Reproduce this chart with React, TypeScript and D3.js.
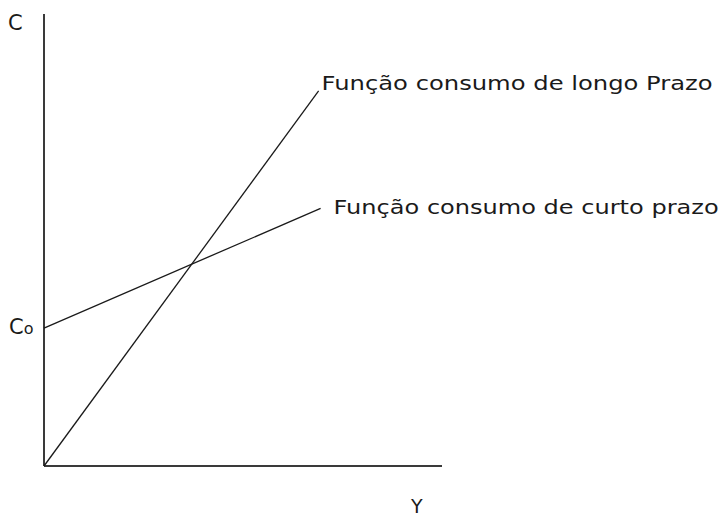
import React from "react";
import * as d3 from "d3";

// Consumption functions in abstract units (income Y, consumption C)
const longRunY = [0, 69];
const longRunC = [0, 83];
const shortRunY = [0, 69.5];
const shortRunC = [30.5, 57];

const longRunLabel = "Função consumo de longo Prazo";
const shortRunLabel = "Função consumo de curto prazo";
const axisLabelC = "C";
const axisLabelY = "Y";
const interceptLabel = "C";
const interceptSub = "o";

const W = 720;
const H = 516;

export default function App() {
  const x = d3.scaleLinear().domain([0, 100]).range([44, 442]);
  const y = d3.scaleLinear().domain([0, 100]).range([466, 14]);

  const line = d3
    .line<[number, number]>()
    .x((d) => x(d[0]))
    .y((d) => y(d[1]));

  const longPts = longRunY.map((v, i) => [v, longRunC[i]] as [number, number]);
  const shortPts = shortRunY.map((v, i) => [v, shortRunC[i]] as [number, number]);

  const font = "DejaVu Sans, Verdana, sans-serif";
  const ink = "#1a1a1a";

  return (
    <svg
      width={W}
      height={H}
      style={{ position: "absolute", left: 0, top: 0, background: "#fff" }}
      fontFamily={font}
    >
      {/* axes */}
      <line x1={x(0)} y1={y(100)} x2={x(0)} y2={y(0)} stroke="#3a3a3a" strokeWidth={2} />
      <line x1={x(0)} y1={y(0)} x2={x(100)} y2={y(0)} stroke="#3a3a3a" strokeWidth={2} />

      {/* consumption functions */}
      <path d={line(longPts) ?? ""} fill="none" stroke={ink} strokeWidth={1.3} />
      <path d={line(shortPts) ?? ""} fill="none" stroke={ink} strokeWidth={1.3} />

      {/* labels */}
      <text
        x={x(longRunY[1]) + 3}
        y={90}
        fontSize={20}
        fill={ink}
        textLength={391}
        lengthAdjust="spacingAndGlyphs"
      >
        {longRunLabel}
      </text>
      <text
        x={x(shortRunY[1]) + 13}
        y={214}
        fontSize={20}
        fill={ink}
        textLength={385}
        lengthAdjust="spacingAndGlyphs"
      >
        {shortRunLabel}
      </text>

      <text x={8} y={30} fontSize={21} fill={ink}>
        {axisLabelC}
      </text>
      <text x={9} y={334} fontSize={21} fill={ink}>
        {interceptLabel}
        <tspan fontSize={16}>{interceptSub}</tspan>
      </text>
      <text x={411} y={513} fontSize={19} fill={ink}>
        {axisLabelY}
      </text>
    </svg>
  );
}
